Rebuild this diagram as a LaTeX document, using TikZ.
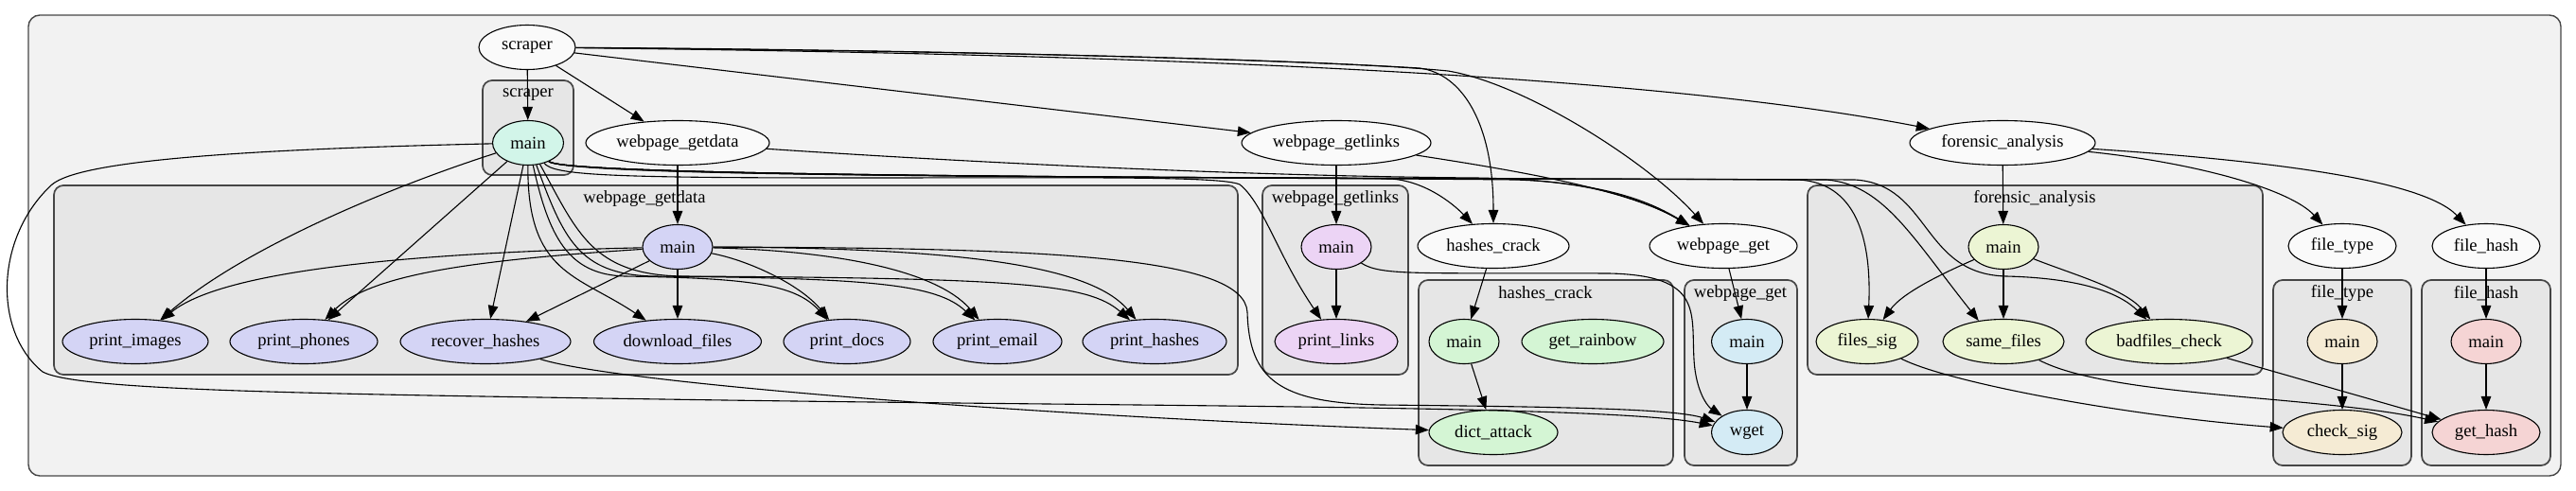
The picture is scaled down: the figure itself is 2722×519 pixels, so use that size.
\documentclass[tikz,border=0pt]{standalone}
\usepackage{fontspec}
\setmainfont{Liberation Serif}
\usetikzlibrary{arrows.meta,shapes.geometric}
\definecolor{outerfill}{HTML}{F2F2F2}
\definecolor{clfill}{HTML}{E6E6E6}
\definecolor{clline}{HTML}{464646}
\definecolor{modfill}{HTML}{FAFAFA}
\definecolor{cscr}{HTML}{D2F5E9}
\definecolor{cwgd}{HTML}{D4D4F5}
\definecolor{cwgl}{HTML}{ECD4F5}
\definecolor{chc}{HTML}{D4F5D4}
\definecolor{cwg}{HTML}{D4EBF5}
\definecolor{cfa}{HTML}{ECF5D4}
\definecolor{cft}{HTML}{F5EBD4}
\definecolor{cfh}{HTML}{F5D4D4}
\pgfdeclarelayer{bg}
\pgfsetlayers{bg,main}
\begin{document}
\begin{tikzpicture}[x=1pt,y=-1pt,
  every node/.style={font=\fontsize{18.6}{20}\selectfont},
  clus/.style={draw=clline, fill=clfill, line width=1.7pt, rounded corners=10pt},
  nbase/.style={ellipse, draw=black, line width=1.1pt, inner sep=0pt, minimum height=47pt},
  mod/.style={nbase, fill=modfill},
  edg/.style={draw=black, line width=1.1pt, -{Triangle[length=14pt,width=10.5pt]}},
  lab/.style={inner sep=0pt}]
\useasboundingbox (0,0) rectangle (2722,519);
\begin{pgfonlayer}{bg}
\draw[draw=clline, fill=outerfill, line width=1.4pt, rounded corners=12pt] (30,16) rectangle (2706,503);
\draw[clus] (510,85) rectangle (606,185);
\draw[clus] (57,196) rectangle (1308,396);
\draw[clus] (1334,196) rectangle (1488,396);
\draw[clus] (1499,296) rectangle (1768,492);
\draw[clus] (1780,296) rectangle (1899,492);
\draw[clus] (1910,196) rectangle (2391,396);
\draw[clus] (2402,296) rectangle (2548,492);
\draw[clus] (2559,296) rectangle (2695,492);
\node[lab] (lscr) at (558,100) {scraper};
\node[lab] (lwgd) at (681,210) {webpage\_getdata};
\node[lab] (lwgl) at (1411,210) {webpage\_getlinks};
\node[lab] (lhc) at (1633,310) {hashes\_crack};
\node[lab] (lwg) at (1839,310) {webpage\_get};
\node[lab] (lfa) at (2150,210) {forensic\_analysis};
\node[lab] (lft) at (2475,310) {file\_type};
\node[lab] (lfh) at (2627,310) {file\_hash};
\end{pgfonlayer}

% module nodes
\node[mod, minimum width=102pt] (scraper) at (557,50) {scraper};
\node[mod, minimum width=194pt] (wgdmod) at (716,151) {webpage\_getdata};
\node[mod, minimum width=200pt] (wglmod) at (1412,151) {webpage\_getlinks};
\node[mod, minimum width=160pt] (hcmod) at (1578,260) {hashes\_crack};
\node[mod, minimum width=156pt] (wgmod) at (1821,260) {webpage\_get};
\node[mod, minimum width=196pt] (famod) at (2116,151) {forensic\_analysis};
\node[mod, minimum width=114pt] (ftmod) at (2475,260) {file\_type};
\node[mod, minimum width=114pt] (fhmod) at (2627,260) {file\_hash};

% function nodes
\node[nbase, fill=cscr, minimum width=75pt] (smain) at (558,151) {main};
\node[nbase, fill=cwgd, minimum width=74pt] (wgdmain) at (716,261) {main};
\node[nbase, fill=cwgd, minimum width=154pt] (printimages) at (143,361) {print\_images};
\node[nbase, fill=cwgd, minimum width=156pt] (printphones) at (321,361) {print\_phones};
\node[nbase, fill=cwgd, minimum width=180pt] (recoverhashes) at (513,361) {recover\_hashes};
\node[nbase, fill=cwgd, minimum width=177pt] (downloadfiles) at (716,361) {download\_files};
\node[nbase, fill=cwgd, minimum width=134pt] (printdocs) at (895,361) {print\_docs};
\node[nbase, fill=cwgd, minimum width=136pt] (printemail) at (1054,361) {print\_email};
\node[nbase, fill=cwgd, minimum width=152pt] (printhashes) at (1220,361) {print\_hashes};
\node[nbase, fill=cwgl, minimum width=74pt] (wglmain) at (1412,261) {main};
\node[nbase, fill=cwgl, minimum width=130pt] (printlinks) at (1412,361) {print\_links};
\node[nbase, fill=chc, minimum width=74pt] (hcmain) at (1547,361) {main};
\node[nbase, fill=chc, minimum width=150pt] (getrainbow) at (1683,361) {get\_rainbow};
\node[nbase, fill=chc, minimum width=136pt] (dictattack) at (1578,457) {dict\_attack};
\node[nbase, fill=cwg, minimum width=75pt] (wgmain) at (1846,361) {main};
\node[nbase, fill=cwg, minimum width=75pt] (wget) at (1846,457) {wget};
\node[nbase, fill=cfa, minimum width=74pt] (famain) at (2117,261) {main};
\node[nbase, fill=cfa, minimum width=108pt] (filessig) at (1973,361) {files\_sig};
\node[nbase, fill=cfa, minimum width=128pt] (samefiles) at (2117,361) {same\_files};
\node[nbase, fill=cfa, minimum width=176pt] (badfiles) at (2292,361) {badfiles\_check};
\node[nbase, fill=cft, minimum width=74pt] (ftmain) at (2475,361) {main};
\node[nbase, fill=cft, minimum width=126pt] (checksig) at (2475,457) {check\_sig};
\node[nbase, fill=cfh, minimum width=74pt] (fhmain) at (2627,361) {main};
\node[nbase, fill=cfh, minimum width=114pt] (gethash) at (2627,457) {get\_hash};

% module-level edges
\draw[edg] (scraper) -- (smain);
\draw[edg] (scraper) -- (wgdmod);
\draw[edg] (scraper) -- (wglmod);
\draw[edg] (scraper) .. controls (900,52) and (1300,60) .. (1500,72) .. controls (1545,78) and (1578,130) .. (hcmod);
\draw[edg] (scraper) .. controls (950,53) and (1400,62) .. (1530,75) .. controls (1610,88) and (1740,170) .. (wgmod);
\draw[edg] (scraper) .. controls (1250,58) and (1750,80) .. (famod);
\draw[edg] (wgdmod) -- (wgdmain);
\draw[edg] (wgdmod) .. controls (1000,170) and (1300,186) .. (1560,188) .. controls (1680,190) and (1735,208) .. (wgmod);
\draw[edg] (wglmod) -- (wglmain);
\draw[edg] (wglmod) .. controls (1600,180) and (1720,200) .. (wgmod);
\draw[edg] (famod) -- (famain);
\draw[edg] (famod) .. controls (2320,172) and (2420,200) .. (ftmod);
\draw[edg] (famod) .. controls (2400,170) and (2560,190) .. (fhmod);
\draw[edg] (hcmod) -- (hcmain);
\draw[edg] (wgmod) -- (wgmain);
\draw[edg] (ftmod) -- (ftmain);
\draw[edg] (fhmod) -- (fhmain);

% scraper.main calls
\draw[edg] (smain) .. controls (420,195) and (260,260) .. (printimages);
\draw[edg] (smain) -- (printphones);
\draw[edg] (smain) -- (recoverhashes);
\draw[edg] (smain) .. controls (557,290) and (610,290) .. (downloadfiles);
\draw[edg] (smain) .. controls (580,250) and (600,290) .. (660,292) .. controls (790,294) and (840,300) .. (printdocs);
\draw[edg] (smain) .. controls (595,250) and (610,290) .. (690,292) .. controls (920,294) and (990,300) .. (printemail);
\draw[edg] (smain) .. controls (610,245) and (625,290) .. (720,292) .. controls (1080,294) and (1150,300) .. (printhashes);
\draw[edg] (smain) .. controls (250,158) and (85,170) .. (55,195) .. controls (-5,250) and (-8,350) .. (45,393) .. controls (80,412) and (300,416) .. (700,422) .. controls (1200,430) and (1700,428) .. (wget);
\draw[edg] (smain) .. controls (585,185) and (640,188) .. (900,188) .. controls (1150,188) and (1290,186) .. (1310,195) .. controls (1335,215) and (1350,270) .. (printlinks);
\draw[edg] (smain) .. controls (600,188) and (1200,186) .. (1470,189) .. controls (1510,192) and (1540,220) .. (hcmod);
\draw[edg] (smain) .. controls (600,188) and (1300,187) .. (1600,190) .. controls (1680,192) and (1740,212) .. (wgmod);
\draw[edg] (smain) .. controls (600,189) and (1500,188) .. (1900,190) .. controls (1960,193) and (1978,250) .. (filessig);
\draw[edg] (smain) .. controls (600,189) and (1500,188) .. (1930,190) .. controls (1990,195) and (2020,250) .. (samefiles.140);
\draw[edg] (smain) .. controls (600,189) and (1500,188) .. (1960,190) .. controls (2040,195) and (2030,290) .. (2120,292) .. controls (2200,294) and (2240,310) .. (badfiles);

% webpage_getdata.main calls
\draw[edg] (wgdmain) .. controls (400,268) and (230,290) .. (printimages);
\draw[edg] (wgdmain) .. controls (500,275) and (390,290) .. (printphones);
\draw[edg] (wgdmain) -- (recoverhashes);
\draw[edg] (wgdmain) -- (downloadfiles);
\draw[edg] (wgdmain) .. controls (790,275) and (845,300) .. (printdocs);
\draw[edg] (wgdmain) .. controls (880,265) and (990,285) .. (printemail);
\draw[edg] (wgdmain) .. controls (1000,262) and (1150,278) .. (printhashes);
\draw[edg] (wgdmain) .. controls (1100,262) and (1315,270) .. (1318,330) .. controls (1320,400) and (1350,426) .. (1460,428) .. controls (1650,430) and (1770,432) .. (wget);

% other calls
\draw[edg] (wglmain) -- (printlinks);
\draw[edg] (wglmain) .. controls (1460,292) and (1500,288) .. (1700,289) .. controls (1800,291) and (1787,330) .. (1790,380) .. controls (1792,415) and (1805,430) .. (wget);
\draw[edg] (hcmain) -- (dictattack);
\draw[edg] (wgmain) -- (wget);
\draw[edg] (famain) .. controls (2050,290) and (2010,310) .. (filessig);
\draw[edg] (famain) -- (samefiles);
\draw[edg] (famain) .. controls (2190,290) and (2245,305) .. (badfiles);
\draw[edg] (ftmain) -- (checksig);
\draw[edg] (fhmain) -- (gethash);
\draw[edg] (recoverhashes) .. controls (650,405) and (1100,440) .. (dictattack);
\draw[edg] (filessig) .. controls (2060,405) and (2250,440) .. (checksig);
\draw[edg] (samefiles) .. controls (2230,420) and (2450,418) .. (gethash);
\draw[edg] (badfiles) -- (gethash);
\end{tikzpicture}
\end{document}
